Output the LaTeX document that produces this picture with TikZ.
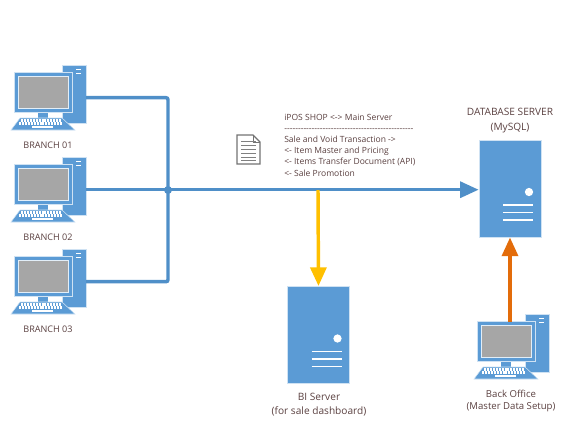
\documentclass[tikz,border=0pt]{standalone}
\usepackage{fontspec}
\setmainfont{Open Sans}
\newfontfamily\notefont{Open Sans}
\usepackage{tikz}
\usetikzlibrary{arrows.meta,positioning}
\definecolor{blu}{HTML}{5B9BD5}
\definecolor{lne}{HTML}{4F8FC8}
\definecolor{pale}{HTML}{CFE2F3}
\definecolor{scr}{HTML}{A6A6A6}
\definecolor{ylw}{HTML}{FFC000}
\definecolor{org}{HTML}{E36C0A}
\definecolor{txt}{HTML}{5A4040}
\tikzset{
  lbl/.style={text=txt,font=\fontsize{7.6}{11}\selectfont,align=center,inner sep=0pt},
  srv/.style={draw=pale,fill=blu,line width=.5pt,minimum width=46.5pt,minimum height=73pt,inner sep=0pt},
  conn/.style={draw=lne,line width=2.6pt,rounded corners=1.5pt},
  tip/.style={-{Triangle[length=14pt,width=12pt]}},
  pc/.pic={
    \node[draw=pale,fill=blu,line width=.5pt,minimum width=18pt,minimum height=43.5pt,inner sep=0pt] (tower) at (60,21) {};
    \coordinate (port) at (72,24.7);
    \foreach \y in {-3.5,0.5} \draw[white,line width=1pt] (62,\y) -- (67,\y);
    \fill[blu] (24,39) rectangle (34,46);
    \draw[pale,fill=blu,line width=.4pt] (6,45) -- (48,45) -- (61,57) -- (-3,57) -- cycle;
    \foreach \y/\a/\b in {47.5/7/47,50.5/5/49} \draw[white,line width=1.6pt,dash pattern=on 1.5pt off .7pt] (\a,\y) -- (\b,\y);
    \draw[white,line width=1.2pt] (18,54) -- (39,54);
    \node[draw=pale,fill=blu,line width=.6pt,minimum width=44pt,minimum height=29.5pt,inner sep=0pt] (mon) at (29.5,19.5) {};
    \node[draw=pale!60!white,fill=scr,line width=.8pt,minimum width=37.5pt,minimum height=23.5pt,inner sep=0pt] at (29.5,19.5) {};
  },
  srvmark/.pic={
    \fill[white] (19,3.5) circle (3.1pt);
    \foreach \y in {16.5,24,31.5} \draw[white,line width=1pt] (-7,\y) -- (23,\y);
  }
}
\begin{document}
\begin{tikzpicture}[x=.75pt,y=-.75pt]
\useasboundingbox (0,0) rectangle (572,430);
% branches
\foreach \n/\y/\t in {1/73/01,2/165/02,3/257/03} {
  \pic (b\n) at (14,\y) {pc};
  \node[lbl,font=\fontsize{6.8}{8}\selectfont] (lb\n) at (48,\y+72) {BRANCH \t};
}
% servers
\node[srv] (db) at (510,188.5) {};
\pic at (510,188.5) {srvmark};
\node[srv] (bi) at (318.5,335) {};
\pic at (318.5,335) {srvmark};
\pic (bo) at (477,322) {pc};
\node[lbl] (dbl) at (510,120.5) {DATABASE SERVER\\(MySQL)};
\node[lbl] (bil) at (319,404.5) {BI Server\\(for sale dashboard)};
\node[lbl,font=\fontsize{7.2}{9.4}\selectfont] (bol) at (511,401) {Back Office\\(Master Data Setup)};
% connectors
\coordinate (jn) at (168,190);
\coordinate (tap) at (318,190);
\coordinate (botop) at (510,322);
\draw[conn] (b1port) -| (jn);
\draw[conn] (b3port) -| (jn);
\draw[conn,tip] (b2port) -- (b2port -| db.west);
\fill[lne] (jn) circle (3pt);
\draw[draw=ylw,line width=2.6pt,tip] (tap) -- (bi.north);
\draw[draw=org,line width=2.6pt,tip] (botop) -- (db.south);
% doc
\node[lbl,align=left,anchor=north west,font=\notefont\fontsize{6.4}{8.4}\selectfont] (note) at (284,113.5) {iPOS SHOP <-> Main Server\\
-----------------------------------------------\\
Sale and Void Transaction ->\\
<- Item Master and Pricing\\
<- Items Transfer Document (API)\\
<- Sale Promotion};
\draw[gray!90!black,line width=.9pt,fill=white] (237,135) -- (253,135) -- (260,142) -- (260,164) -- (237,164) -- cycle;
\draw[gray!90!black,line width=.6pt] (253,135) -- (253,142) -- (260,142);
\foreach \y in {141,145,149,153,157,160} \draw[gray,line width=.5pt] (241,\y) -- (256,\y);
\end{tikzpicture}
\end{document}
